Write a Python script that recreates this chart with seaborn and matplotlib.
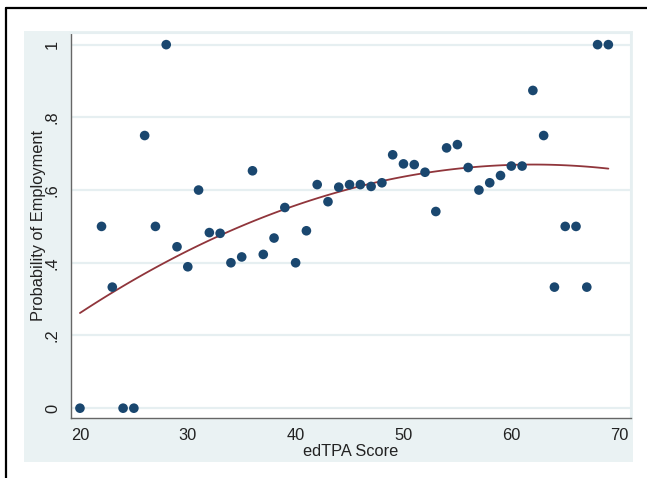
import matplotlib
matplotlib.use("Agg")
import matplotlib.pyplot as plt
from matplotlib.patches import Rectangle
from matplotlib.lines import Line2D
import seaborn as sns
import pandas as pd

# binned data
edtpa_score = [20, 22, 23, 24, 25, 26, 27, 28, 29, 30, 31, 32, 33, 34, 35, 36, 37, 38, 39, 40,
               41, 42, 43, 44, 45, 46, 47, 48, 49, 50, 51, 52, 53, 54, 55, 56, 57, 58, 59, 60,
               61, 62, 63, 64, 65, 66, 67, 68, 69]
prob_employed = [0.0, 0.5, 0.333, 0.0, 0.0, 0.75, 0.5, 1.0, 0.444, 0.389, 0.6, 0.483, 0.481, 0.4, 0.416,
                 0.653, 0.423, 0.468, 0.552, 0.4, 0.488, 0.615, 0.568, 0.608, 0.615, 0.615, 0.61, 0.62,
                 0.697, 0.672, 0.67, 0.649, 0.541, 0.716, 0.725, 0.662, 0.6, 0.62, 0.64, 0.666, 0.666,
                 0.874, 0.75, 0.333, 0.5, 0.5, 0.333, 1.0, 1.0]

# quadratic fit line
fit_x = [20, 25, 30, 35, 40, 45, 50, 55, 60, 65, 69]
fit_y = [0.262, 0.353, 0.433, 0.501, 0.558, 0.603, 0.637, 0.659, 0.669, 0.668, 0.659]

y_ticks = [0, 0.2, 0.4, 0.6, 0.8, 1]
y_ticklabels = ["0", ".2", ".4", ".6", ".8", "1"]
x_ticks = [20, 30, 40, 50, 60, 70]

df = pd.DataFrame({"score": edtpa_score, "prob": prob_employed})
fit = pd.DataFrame({"score": fit_x, "prob": fit_y})

sns.set_style("white")
plt.rcParams["font.family"] = ["Liberation Sans", "DejaVu Sans"]

W, H = 647, 478
fig = plt.figure(figsize=(W / 100, H / 100), dpi=100)
fig.patch.set_facecolor("white")

# stata-ish graph region + frame
fig.patches.append(Rectangle((24 / W, 1 - 462 / H), (633 - 24) / W, (462 - 31) / H,
                             transform=fig.transFigure, facecolor="#eaf2f3", edgecolor="none", zorder=-10))
fig.lines.append(Line2D([6 / W, 1], [1 - 8 / H, 1 - 8 / H], transform=fig.transFigure, color="black", lw=1.6))
fig.lines.append(Line2D([6 / W, 6 / W], [0, 1 - 8 / H], transform=fig.transFigure, color="black", lw=1.6))

ax = fig.add_axes([71 / W, 1 - 418 / H, (631 - 71) / W, (418 - 33) / H])
ax.set_facecolor("white")

for yt in y_ticks:
    ax.axhline(yt, color="#e6eff1", lw=1.6, zorder=1)

sns.regplot(data=fit, x="score", y="prob", order=2, ci=None, scatter=False, ax=ax,
            line_kws={"color": "#90353b", "lw": 1.3, "zorder": 2})
sns.scatterplot(data=df, x="score", y="prob", ax=ax, color="#1a476f", s=48,
                edgecolor="none", zorder=3)

ax.set_xlim(19.17, 71.1)
ax.set_ylim(-0.027, 1.032)
ax.set_xticks(x_ticks)
ax.set_yticks(y_ticks)
ax.set_yticklabels(y_ticklabels, rotation=90, va="center")
ax.tick_params(axis="both", direction="out", length=5, width=1, color="#555555",
               labelsize=11.8, labelcolor="#222222")
ax.tick_params(axis="y", pad=3)
ax.tick_params(axis="x", pad=2)

ax.set_xlabel("edTPA Score", fontsize=11.8, color="#222222", labelpad=1)
ax.set_ylabel("Probability of Employment", fontsize=11.8, color="#222222", labelpad=-1)

for side in ["left", "bottom"]:
    ax.spines[side].set_color("#666666")
    ax.spines[side].set_linewidth(1.0)
for side in ["top", "right"]:
    ax.spines[side].set_color("#e6eff1")
    ax.spines[side].set_linewidth(1.5)

fig.savefig("out.png", dpi=100)
